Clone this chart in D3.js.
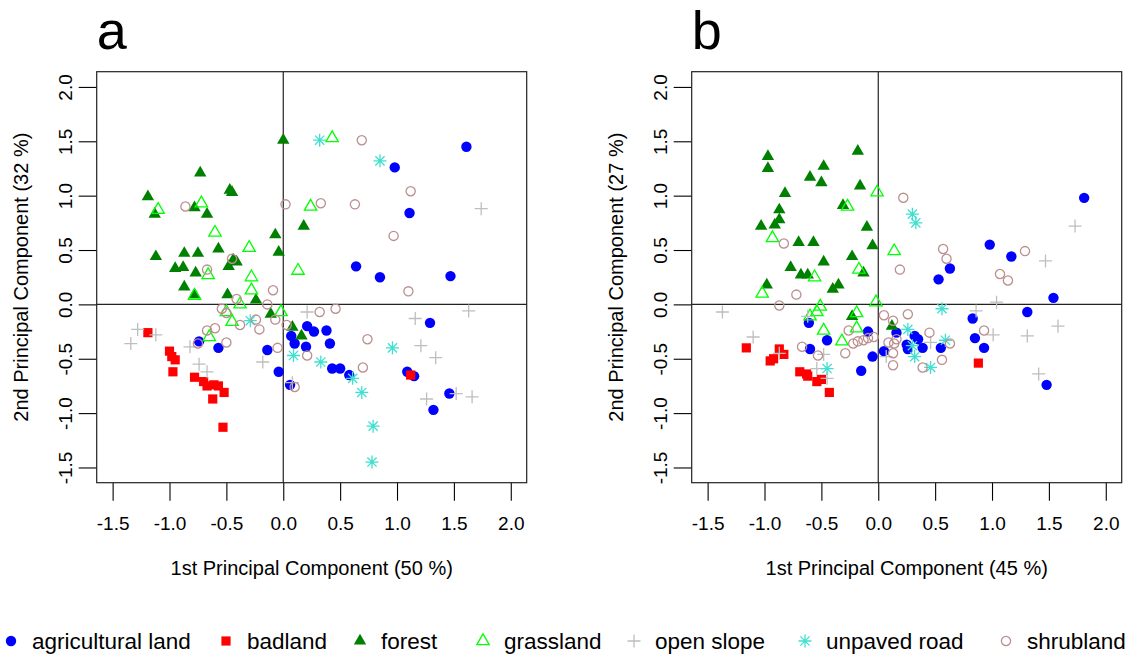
<!DOCTYPE html>
<html>
<head>
<meta charset="utf-8">
<script src="https://cdn.jsdelivr.net/npm/d3@7"></script>
<style>
  body { margin: 0; background: #fff; }
  svg text { font-family: "Liberation Sans", Arial, Helvetica, sans-serif; fill: #000; }
</style>
</head>
<body>
<svg id="chart" width="1129" height="657"></svg>
<script>
// --- Data ---
const categories = ["agricultural land", "badland", "forest", "grassland", "open slope", "unpaved road", "shrubland"];
const shapes = ["dot", "square", "triangleFill", "triangleOpen", "plus", "star", "circleOpen"];
const colors = ["#0000FF", "#FF0000", "#008000", "#00FF00", "#BEBEBE", "#40E0D0", "#BC8F8F"];
const tickValues = [-1.5, -1.0, -0.5, 0.0, 0.5, 1.0, 1.5, 2.0];
const panelLetters = ["a", "b"];
const xTitles = ["1st Principal Component (50 %)", "1st Principal Component (45 %)"];
const yTitles = ["2nd Principal Component (32 %)", "2nd Principal Component (27 %)"];

// panel a
const agriA = [[1.61,1.45],[0.98,1.26],[1.11,0.84],[0.64,0.35],[0.85,0.25],[1.47,0.26],
  [0.21,-0.20],[0.07,-0.29],[0.10,-0.36],[0.20,-0.39],[-0.04,-0.62],[0.06,-0.74],[-0.14,-0.42],
  [-0.57,-0.40],[-0.74,-0.34],[1.29,-0.17],[0.27,-0.25],[0.38,-0.24],[0.41,-0.36],[0.43,-0.59],
  [0.50,-0.59],[0.58,-0.65],[1.09,-0.62],[1.15,-0.66],[1.46,-0.82],[1.32,-0.97]];
const badlandA = [[-1.19,-0.26],[-1.00,-0.43],[-0.98,-0.48],[-0.95,-0.51],[-0.97,-0.62],[-0.78,-0.67],
  [-0.70,-0.71],[-0.67,-0.75],[-0.61,-0.74],[-0.57,-0.75],[-0.52,-0.81],[-0.62,-0.87],[-0.53,-1.13],[1.12,-0.65]];
const forestA = [[0.00,1.51],[-0.73,1.21],[-0.47,1.05],[-0.45,1.03],[-1.19,0.99],[-1.13,0.83],[-0.78,0.89],
  [-0.67,0.83],[0.18,0.72],[-0.07,0.64],[-0.57,0.51],[-0.04,0.48],[-1.12,0.44],[-0.87,0.47],[-0.75,0.47],
  [-0.44,0.41],[-0.41,0.39],[-0.48,0.35],[-0.95,0.33],[-0.88,0.34],[-0.77,0.29],[-0.87,0.16],[-0.78,0.09],
  [-0.49,0.09],[-0.24,0.04],[-0.11,-0.09],[0.08,-0.21],[0.16,-0.29]];
const grassA = [[0.43,1.53],[-1.10,0.87],[-0.72,0.93],[0.24,0.90],[-0.60,0.66],[-0.30,0.52],[0.13,0.31],
  [-0.66,0.27],[-0.28,0.25],[-0.78,0.08],[-0.28,0.13],[-0.38,0.00],[-0.50,-0.07],[-0.45,-0.16],
  [-0.02,-0.07],[-0.65,-0.30]];
const slopeA = [[1.74,0.88],[0.21,-0.07],[-0.18,-0.53],[0.08,-0.72],[-0.82,-0.39],[-1.28,-0.23],[-1.12,-0.28],
  [-1.34,-0.36],[-0.74,-0.55],[-0.67,-0.62],[1.16,-0.13],[1.63,-0.06],[1.21,-0.38],[1.34,-0.49],
  [1.52,-0.82],[1.66,-0.85],[1.26,-0.87]];
const roadA = [[0.32,1.51],[0.85,1.32],[-0.29,-0.15],[0.09,-0.47],[0.96,-0.40],[0.33,-0.53],[0.61,-0.68],
  [0.69,-0.81],[0.79,-1.12],[0.78,-1.45]];
const shrubA = [[-0.86,0.90],[0.02,0.92],[-0.45,0.42],[-0.67,0.32],[0.69,1.51],[1.12,1.04],[0.33,0.93],
  [0.63,0.92],[0.97,0.63],[1.10,0.12],[-0.09,0.13],[-0.41,0.05],[-0.54,-0.04],[-0.50,-0.08],[-0.14,0.00],
  [-0.38,-0.19],[-0.24,-0.14],[-0.21,-0.23],[-0.07,-0.14],[0.03,-0.19],[0.21,-0.47],[0.10,-0.76],
  [-0.05,-0.40],[-0.67,-0.24],[-0.60,-0.22],[-0.75,-0.36],[-0.50,-0.35],[0.32,-0.07],[0.46,-0.04],
  [0.74,-0.32],[0.70,-0.58]];

// panel b
const agriB = [[1.81,0.98],[0.98,0.55],[1.17,0.44],[0.63,0.33],[0.53,0.23],[1.54,0.06],[1.31,-0.07],
  [0.83,-0.13],[0.85,-0.31],[0.93,-0.40],[1.48,-0.74],[0.16,-0.26],[0.32,-0.29],[0.35,-0.32],[0.25,-0.37],
  [0.26,-0.41],[0.39,-0.40],[0.55,-0.40],[0.05,-0.43],[-0.05,-0.48],[-0.15,-0.61],[-0.09,-0.25],
  [-0.61,-0.17],[-0.45,-0.33],[-0.60,-0.41]];
const badlandB = [[-1.16,-0.40],[-0.87,-0.41],[-0.83,-0.46],[-0.92,-0.50],[-0.95,-0.52],[-0.69,-0.62],
  [-0.63,-0.64],[-0.62,-0.66],[-0.54,-0.71],[-0.50,-0.69],[-0.43,-0.81],[0.88,-0.54]];
const forestB = [[-0.97,1.36],[-0.97,1.25],[-0.18,1.41],[-0.48,1.27],[-0.60,1.17],[-0.50,1.12],[-0.16,1.09],
  [-0.82,1.02],[-0.31,0.91],[-0.87,0.87],[-0.87,0.78],[-1.03,0.72],[-0.91,0.73],[-0.10,0.71],[-0.70,0.57],
  [-0.57,0.57],[-0.05,0.54],[-0.77,0.34],[-0.48,0.39],[-0.23,0.44],[-0.13,0.29],[-0.68,0.27],[-0.62,0.27],
  [-0.98,0.18],[-0.40,0.14],[-0.35,0.18],[-0.23,-0.11],[0.12,-0.20]];
const grassB = [[-0.01,1.03],[-0.27,0.90],[-0.93,0.61],[0.14,0.49],[-0.17,0.32],[-0.56,0.25],[-1.02,0.10],
  [-0.51,-0.02],[-0.54,-0.07],[-0.60,-0.11],[-0.02,0.02],[-0.19,-0.08],[-0.19,-0.22],[-0.32,-0.34],[-0.48,-0.24]];
const slopeB = [[1.73,0.72],[1.47,0.40],[-1.37,-0.07],[-0.62,-0.11],[0.07,-0.48],[-0.48,-0.46],[-1.10,-0.30],
  [-0.87,-0.45],[-0.54,-0.59],[-0.45,-0.68],[0.86,-0.06],[1.04,0.02],[1.58,-0.20],[1.01,-0.28],[1.31,-0.29],
  [0.46,-0.35],[1.41,-0.64]];
const roadB = [[0.30,0.83],[0.33,0.75],[0.56,-0.04],[0.26,-0.23],[0.30,-0.38],[0.32,-0.48],[0.59,-0.33],
  [0.46,-0.58],[-0.45,-0.59]];
const shrubB = [[0.22,0.98],[0.19,0.32],[-0.83,0.56],[0.57,0.51],[0.60,0.42],[1.29,0.49],[1.07,0.28],[1.14,0.22],
  [-0.72,0.09],[-0.87,-0.01],[0.05,-0.10],[0.13,-0.15],[0.09,-0.35],[0.14,-0.36],[0.16,-0.32],[0.13,-0.45],
  [0.13,-0.56],[-0.26,-0.24],[-0.22,-0.36],[-0.18,-0.34],[-0.13,-0.33],[-0.09,-0.31],[-0.04,-0.30],
  [-0.29,-0.45],[-0.67,-0.39],[-0.53,-0.47],[0.26,-0.09],[0.45,-0.26],[0.93,-0.24],[0.63,-0.36],
  [0.39,-0.58],[0.56,-0.51]];

const seriesA = [agriA, badlandA, forestA, grassA, slopeA, roadA, shrubA];
const seriesB = [agriB, badlandB, forestB, grassB, slopeB, roadB, shrubB];

// --- Layout ---
const svg = d3.select("#chart");
const panelLefts = [96.7, 691.7];
const BOX_TOP = 71.7, BOX_W = 430, BOX_H = 411;
const DOMAIN = [-1.64, 2.14];
const C = 4.6; // symbol base radius
const legendX = [11, 226, 360, 483, 634, 805, 1006];
const LEGEND_Y = 641;

function symbolPath(shape) {
    const p = d3.path();
    if (shape === "dot") {
        p.arc(0, 0, 5.2, 0, 2 * Math.PI);
    } else if (shape === "square") {
        p.rect(-C, -C, 2 * C, 2 * C);
    } else if (shape === "triangleFill" || shape === "triangleOpen") {
        p.moveTo(0, -1.555 * C);
        p.lineTo(1.347 * C, 0.778 * C);
        p.lineTo(-1.347 * C, 0.778 * C);
        p.closePath();
    } else if (shape === "circleOpen") {
        p.arc(0, 0, C, 0, 2 * Math.PI);
    } else {
        const r = Math.SQRT2 * C;
        p.moveTo(-r, 0); p.lineTo(r, 0);
        p.moveTo(0, -r); p.lineTo(0, r);
        if (shape === "star") {
            p.moveTo(-C, -C); p.lineTo(C, C);
            p.moveTo(-C, C); p.lineTo(C, -C);
        }
    }
    return p.toString();
}

function styleSymbol(sel, i) {
    const filled = ["dot", "square", "triangleFill"].includes(shapes[i]);
    sel.attr("d", symbolPath(shapes[i]))
        .attr("fill", filled ? colors[i] : "none")
        .attr("stroke", filled ? "none" : colors[i])
        .attr("stroke-width", filled ? 0 : 1.3);
}

function drawPanel(k, series) {
    const left = panelLefts[k];
    const x = d3.scaleLinear().domain(DOMAIN).range([left, left + BOX_W]);
    const y = d3.scaleLinear().domain(DOMAIN).range([BOX_TOP + BOX_H, BOX_TOP]);
    const g = svg.append("g").attr("class", "panel");
    const fmt = d => d.toFixed(1);

    // x axis
    const xAxis = g.append("g")
        .attr("transform", `translate(0,${BOX_TOP + BOX_H})`)
        .call(d3.axisBottom(x).tickValues(tickValues).tickSize(18).tickSizeOuter(0).tickFormat(fmt));
    xAxis.selectAll("text").attr("y", 47.5).attr("dy", 0).style("font-size", "19px");

    // y axis
    const yAxis = g.append("g")
        .attr("transform", `translate(${left},0)`)
        .call(d3.axisLeft(y).tickValues(tickValues).tickSize(18).tickSizeOuter(0).tickFormat(fmt));
    yAxis.selectAll("text")
        .attr("transform", "rotate(-90)")
        .attr("x", 0).attr("y", -25).attr("dy", 0)
        .attr("text-anchor", "middle")
        .style("font-size", "19px");
    g.selectAll(".domain").remove();
    g.selectAll(".tick line").attr("stroke", "#000").attr("stroke-width", 1.1);

    // box and zero lines
    g.append("rect")
        .attr("x", left).attr("y", BOX_TOP).attr("width", BOX_W).attr("height", BOX_H)
        .attr("fill", "none").attr("stroke", "#222").attr("stroke-width", 1.2);
    g.append("line")
        .attr("x1", x(0)).attr("x2", x(0)).attr("y1", BOX_TOP).attr("y2", BOX_TOP + BOX_H)
        .attr("stroke", "#222").attr("stroke-width", 1.2);
    g.append("line")
        .attr("x1", left).attr("x2", left + BOX_W).attr("y1", y(0)).attr("y2", y(0))
        .attr("stroke", "#222").attr("stroke-width", 1.2);

    // points
    series.forEach((pts, i) => {
        g.append("g").attr("class", "series")
            .selectAll("path").data(pts).enter().append("path")
            .attr("transform", d => `translate(${x(d[0])},${y(d[1])})`)
            .call(sel => styleSymbol(sel, i));
    });

    // titles
    g.append("text")
        .attr("x", (left + left + BOX_W) / 2).attr("y", BOX_TOP + BOX_H + 92)
        .attr("text-anchor", "middle").style("font-size", "20px")
        .text(xTitles[k]);
    g.append("text")
        .attr("transform", `translate(${left - 69},${BOX_TOP + BOX_H / 2}) rotate(-90)`)
        .attr("text-anchor", "middle").style("font-size", "20px")
        .text(yTitles[k]);
    g.append("text")
        .attr("x", left).attr("y", 49)
        .style("font-size", "54px")
        .text(panelLetters[k]);
}

drawPanel(0, seriesA);
drawPanel(1, seriesB);

// legend
const legend = svg.append("g").attr("class", "legend");
categories.forEach((name, i) => {
    legend.append("path")
        .attr("transform", `translate(${legendX[i]},${LEGEND_Y})`)
        .call(sel => styleSymbol(sel, i));
    legend.append("text")
        .attr("x", legendX[i] + 21).attr("y", LEGEND_Y + 8)
        .style("font-size", "22.5px")
        .text(name);
});
</script>
</body>
</html>
